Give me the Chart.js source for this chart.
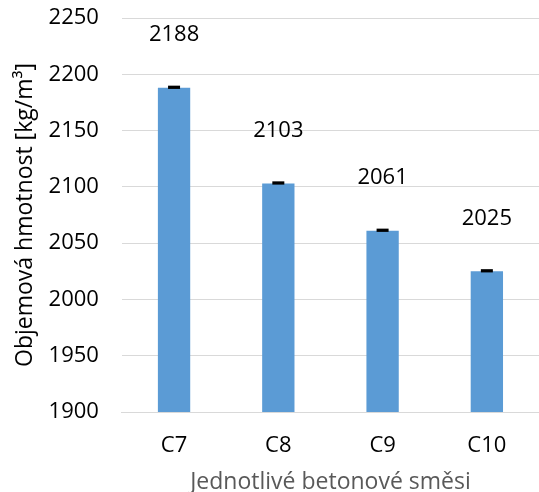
<!DOCTYPE html>
<html>
<head>
<meta charset="utf-8">
<script src="https://cdn.jsdelivr.net/npm/chart.js@4"></script>
<style>
    html, body { margin: 0; padding: 0; background: #fff; }
    #wrap { width: 539px; height: 492px; }
</style>
</head>
<body>
<div id="wrap"><canvas id="densityChart"></canvas></div>
<script>
    const categories = ['C7', 'C8', 'C9', 'C10'];
    const densities = [2188, 2103, 2061, 2025];
    const errors = [1, 1, 1, 1];
    const yTicks = [1900, 1950, 2000, 2050, 2100, 2150, 2200, 2250];

    const FONT = "'Open Sans', Lato, sans-serif";

    // error bars + value labels drawn over the bars
    const barExtras = {
        id: 'barExtras',
        afterDatasetsDraw(chart) {
            const c = chart.ctx;
            const y = chart.scales.y;
            const meta = chart.getDatasetMeta(0);
            meta.data.forEach((bar, i) => {
                const v = densities[i];
                const e = errors[i];
                const top = y.getPixelForValue(v + e);
                const bot = y.getPixelForValue(v - e);
                c.save();
                c.fillStyle = '#000';
                c.fillRect(bar.x - 6, top - 1, 12, Math.max(3, bot - top + 1));
                c.font = '22px ' + FONT;
                c.textAlign = 'center';
                c.textBaseline = 'middle';
                c.fillText(String(v), bar.x, bar.y - 53);
                c.restore();
            });
        }
    };

    new Chart(document.getElementById('densityChart').getContext('2d'), {
        type: 'bar',
        data: {
            labels: categories,
            datasets: [{
                data: densities,
                backgroundColor: '#5B9BD5',
                categoryPercentage: 1,
                barPercentage: 0.31
            }]
        },
        options: {
            responsive: true,
            maintainAspectRatio: false,
            animation: false,
            layout: { padding: { top: 0, left: 12, right: 0, bottom: -4 } },
            plugins: {
                legend: { display: false },
                tooltip: { enabled: false }
            },
            scales: {
                x: {
                    grid: { display: false, drawTicks: false },
                    border: { color: '#d9d9d9', width: 1 },
                    // tick padding should not eat into the right side
                    afterFit: axis => { axis.paddingLeft = 0; axis.paddingRight = 0; },
                    ticks: {
                        color: '#000',
                        padding: 21,
                        font: { family: FONT, size: 22 }
                    },
                    title: {
                        display: true,
                        text: 'Jednotlivé betonové směsi',
                        color: '#595959',
                        padding: { top: -12, bottom: 0 },
                        font: { family: FONT, size: 23 }
                    }
                },
                y: {
                    min: 1900,
                    max: 2250,
                    afterBuildTicks: axis => {
                        axis.ticks = yTicks.map(v => ({ value: v }));
                    },
                    // fixed space above the plot, half a label below it
                    afterFit: axis => { axis.paddingTop = 18; axis.paddingBottom = 13; },
                    grid: { color: '#d9d9d9', drawTicks: false },
                    border: { display: false },
                    ticks: {
                        color: '#000',
                        padding: 23,
                        font: { family: FONT, size: 22 },
                        callback: v => String(v)
                    },
                    title: {
                        display: true,
                        text: 'Objemová hmotnost [kg/m³]',
                        color: '#000',
                        padding: { top: 0, bottom: -14 },
                        font: { family: FONT, size: 23 }
                    }
                }
            }
        },
        plugins: [barExtras]
    });
</script>
</body>
</html>
